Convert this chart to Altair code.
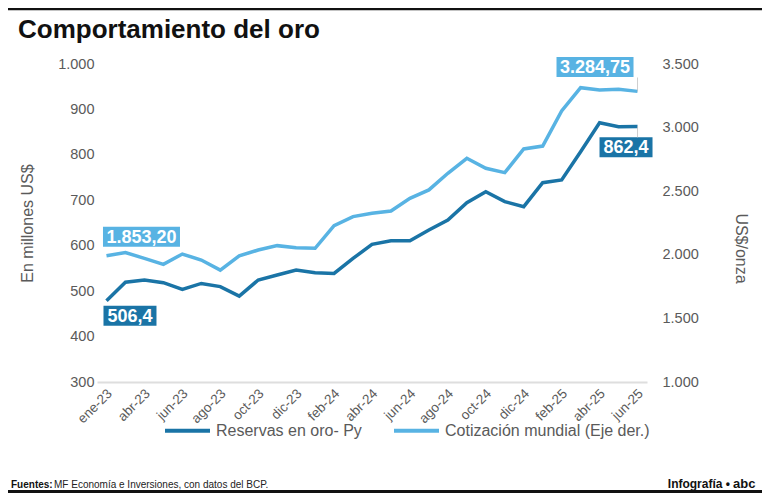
import altair as alt
import pandas as pd

# ---------------- data ----------------
meses = ["ene-23", "mar-23", "abr-23", "may-23", "jun-23", "jul-23", "ago-23", "sep-23",
         "oct-23", "nov-23", "dic-23", "ene-24", "feb-24", "mar-24", "abr-24", "may-24",
         "jun-24", "jul-24", "ago-24", "sep-24", "oct-24", "nov-24", "dic-24", "ene-25",
         "feb-25", "mar-25", "abr-25", "may-25", "jun-25"]
etiquetas_x = meses[::2]

reservas = [479, 519.5, 524.5, 518.6, 504, 517, 510, 489, 524.5, 535.5, 546.5, 540.6, 539,
            572, 603, 611, 611, 634.6, 656.6, 694.7, 719, 697, 686, 738.7, 744.7, 807,
            870.8, 862, 862.4]
cotizacion = [1993, 2017, 1972, 1925, 2006, 1959, 1880, 1991, 2038, 2072, 2056, 2051, 2229,
              2300, 2326, 2344, 2444, 2510, 2641, 2759, 2680, 2646, 2832, 2855, 3131, 3314,
              3296, 3301, 3284.75]

serie_res = "Reservas en oro- Py"
serie_cot = "Cotización mundial (Eje der.)"
textos_res = ["506,4", "862,4"]
textos_cot = ["1.853,20", "3.284,75"]

titulo = "Comportamiento del oro"
eje_izq = "En millones US$"
eje_der = "US$/onza"
fuente_b = "Fuentes:"
fuente = "MF Economía e Inversiones, con datos del BCP."
credito = "Infografía •"
logo = "abc"

ticks_izq = [300, 400, 500, 600, 700, 800, 900, 1000]
ticks_der = [1000, 1500, 2000, 2500, 3000, 3500]

# ---------------- styles ----------------
DARK = "#1a74a6"
LIGHT = "#58b3e3"
GRAY = "#5a5a5a"
SANS = "Liberation Sans, Arial, Helvetica, sans-serif"

W, H = 550, 318
PAD = {"left": 89, "top": 56, "right": 115, "bottom": 111}

BOX_W = "M-1,-0.2597L1,-0.2597L1,0.2597L-1,0.2597Z"   # 77 x 20
BOX_N = "M-1,-0.3774L1,-0.3774L1,0.3774L-1,0.3774Z"   # 53 x 20

df_res = pd.DataFrame({"mes": meses, "valor": reservas, "serie": serie_res})
df_cot = pd.DataFrame({"mes": meses, "valor": cotizacion, "serie": serie_cot})
ann_res = pd.DataFrame({"mes": [meses[0], meses[-1]], "valor": [reservas[0], reservas[-1]],
                        "texto": textos_res, "pos": ["ini", "fin"]})
ann_cot = pd.DataFrame({"mes": [meses[0], meses[-1]], "valor": [cotizacion[0], cotizacion[-1]],
                        "texto": textos_cot, "pos": ["ini", "fin"]})

x_enc = alt.X("mes:O", sort=meses, scale=alt.Scale(type="point", padding=0.5), title=None,
              axis=alt.Axis(values=etiquetas_x, labelAngle=-45, labelAlign="right",
                            labelBaseline="middle", labelPadding=9, labelOffset=3,
                            labelFontSize=13.5, labelColor=GRAY, labelFont=SANS, ticks=False,
                            grid=False, domain=True, domainColor="#dedede", domainWidth=2))

fmt = "replace(format(datum.value, ','), ',', '.')"

y_left = alt.Y("valor:Q", scale=alt.Scale(domain=[300, 1000], nice=False, zero=False),
               axis=alt.Axis(values=ticks_izq, labelExpr=fmt, title=eje_izq, orient="left",
                             titleX=-70, titleY=159, titleAngle=-90, titleAlign="center",
                             titleBaseline="middle", titleFontSize=16, titleFontWeight="normal",
                             titleColor=GRAY, titleFont=SANS, labelFont=SANS, labelFontSize=14.5,
                             labelColor=GRAY, labelPadding=3, domain=False, ticks=False,
                             grid=False))
y_right = alt.Y("valor:Q", scale=alt.Scale(domain=[1000, 3500], nice=False, zero=False),
                axis=alt.Axis(values=ticks_der, labelExpr=fmt, title=eje_der, orient="right",
                              titleX=93, titleY=184, titleAngle=90, titleAlign="center",
                              titleBaseline="middle", titleFontSize=16, titleFontWeight="normal",
                              titleColor=GRAY, titleFont=SANS, labelFont=SANS, labelFontSize=14.5,
                              labelColor=GRAY, labelPadding=15, domain=False, ticks=False,
                              grid=False))

color = alt.Color("serie:N",
                  scale=alt.Scale(domain=[serie_res, serie_cot], range=[DARK, LIGHT]),
                  legend=alt.Legend(title=None, orient="none", legendX=66, legendY=342,
                                    direction="horizontal", symbolType="stroke",
                                    symbolStrokeWidth=4, symbolSize=2025, labelFontSize=16,
                                    labelColor=GRAY, labelFont=SANS, labelOffset=4,
                                    columnPadding=24, labelLimit=0))


def labels(df, y_enc, col, shapes, offsets, sizes, tick_specs):
    out = []
    for pos, shp, (dx, dy), sz in zip(["ini", "fin"], shapes, offsets, sizes):
        base = alt.Chart(df).transform_filter(alt.datum.pos == pos)
        out.append(base.mark_point(shape=shp, size=sz, filled=True, color=col, opacity=1,
                                   strokeWidth=0, xOffset=dx, yOffset=dy)
                   .encode(x=x_enc, y=y_enc))
        out.append(base.mark_text(font=SANS, fontWeight="bold", fontSize=18, color="white",
                                  align="center", baseline="middle", xOffset=dx, yOffset=dy + 1)
                   .encode(x=x_enc, y=y_enc, text="texto:N"))
    for pos, (ln, off) in tick_specs:
        out.append(alt.Chart(df).transform_filter(alt.datum.pos == pos)
                   .mark_tick(orient="vertical", size=ln, thickness=1, color="#bbbbbb",
                              yOffset=off)
                   .encode(x=x_enc, y=y_enc))
    return out


left = alt.layer(
    alt.Chart(df_res).mark_line(strokeWidth=3.5).encode(x=x_enc, y=y_left, color=color),
    *labels(ann_res, y_left, DARK, [BOX_N, BOX_N], [(23.5, 15), (-11.5, 20.7)],
            [2809, 2809], [("fin", (11, 5.5))]),
)
right = alt.layer(
    alt.Chart(df_cot).mark_line(strokeWidth=3.5).encode(x=x_enc, y=y_right, color=color),
    *labels(ann_cot, y_right, LIGHT, [BOX_W, BOX_W], [(35, -19), (-42.5, -24.5)],
            [5929, 5929], [("fin", (14, -7))]),
)


def txt(s, x, y, **kw):
    return alt.Chart(pd.DataFrame({"t": [s]})).mark_text(baseline="alphabetic", **kw).encode(
        text="t:N", x=alt.value(x), y=alt.value(y))


deco = alt.layer(
    txt(titulo, -79, -26, font=SANS, fontWeight="bold", fontSize=26, color="#111111",
        align="left"),
    txt(fuente_b, -86, 424, font=SANS, fontWeight="bold", fontSize=10, color="#111111",
        align="left"),
    txt(fuente, -43, 424, font=SANS, fontSize=10, color="#222222", align="left"),
    txt(credito, 633, 424, font=SANS, fontWeight="bold", fontSize=12, color="#111111",
        align="right"),
    txt(logo, 636, 424, font=SANS, fontWeight="bold", fontSize=13, color="#111111",
        align="left"),
    alt.Chart(pd.DataFrame({"a": [0]})).mark_rule(color="#111111", strokeWidth=2.5).encode(
        x=alt.value(-89), x2=alt.value(665), y=alt.value(-55)),
    alt.Chart(pd.DataFrame({"a": [0]})).mark_rule(color="#111111", strokeWidth=3).encode(
        x=alt.value(-89), x2=alt.value(665), y=alt.value(427.5)),
)

chart = alt.layer(left, right, deco).resolve_scale(y="independent").properties(
    width=W, height=H, padding=PAD, autosize=alt.AutoSizeParams(type="none"),
    background="white"
).configure_view(stroke=None)

chart.save("out.html", embed_options={"renderer": "svg", "actions": False})
